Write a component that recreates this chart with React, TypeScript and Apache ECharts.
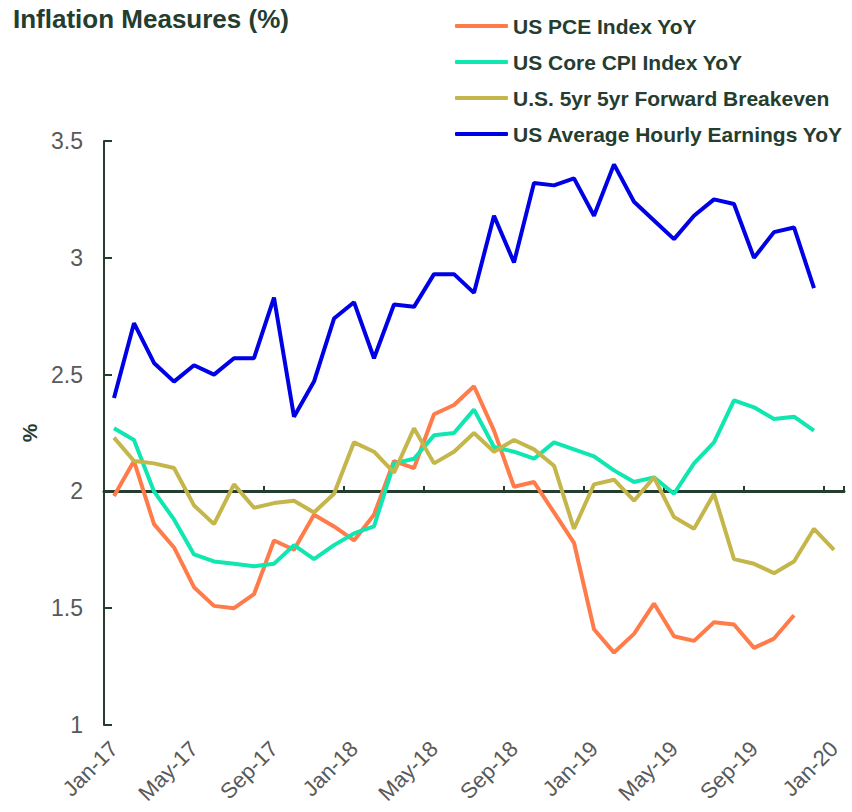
import React, { useEffect, useRef } from "react";
import * as echarts from "echarts";

const months = ["Jan", "Feb", "Mar", "Apr", "May", "Jun", "Jul", "Aug", "Sep", "Oct", "Nov", "Dec"];
const categories: string[] = [];
for (let y = 17; y <= 20; y++) {
  for (let m = 0; m < 12; m++) {
    if (y === 20 && m > 0) break;
    categories.push(`${months[m]}-${y}`);
  }
}

const pceYoY = [
  1.98, 2.13, 1.86, 1.76, 1.59, 1.51, 1.5, 1.56, 1.79, 1.75, 1.9, 1.85,
  1.79, 1.9, 2.13, 2.1, 2.33, 2.37, 2.45, 2.26, 2.02, 2.04, 1.91, 1.78,
  1.41, 1.31, 1.39, 1.52, 1.38, 1.36, 1.44, 1.43, 1.33, 1.37, 1.47, null, null,
];
const coreCpiYoY = [
  2.27, 2.22, 2.0, 1.88, 1.73, 1.7, 1.69, 1.68, 1.69, 1.77, 1.71, 1.77,
  1.82, 1.85, 2.12, 2.14, 2.24, 2.25, 2.35, 2.19, 2.17, 2.14, 2.21, 2.18,
  2.15, 2.09, 2.04, 2.06, 1.99, 2.12, 2.21, 2.39, 2.36, 2.31, 2.32, 2.26, null,
];
const breakeven5y5y = [
  2.23, 2.13, 2.12, 2.1, 1.94, 1.86, 2.03, 1.93, 1.95, 1.96, 1.91, 1.99,
  2.21, 2.17, 2.08, 2.27, 2.12, 2.17, 2.25, 2.17, 2.22, 2.18, 2.11, 1.84,
  2.03, 2.05, 1.96, 2.06, 1.89, 1.84, 1.99, 1.71, 1.69, 1.65, 1.7, 1.84, 1.75,
];
const ahe = [
  2.4, 2.72, 2.55, 2.47, 2.54, 2.5, 2.57, 2.57, 2.83, 2.32, 2.47, 2.74,
  2.81, 2.57, 2.8, 2.79, 2.93, 2.93, 2.85, 3.18, 2.98, 3.32, 3.31, 3.34,
  3.18, 3.4, 3.24, 3.16, 3.08, 3.18, 3.25, 3.23, 3.0, 3.11, 3.13, 2.87, null,
];

const seriesNames = [
  "US PCE Index YoY",
  "US Core CPI Index YoY",
  "U.S. 5yr 5yr Forward Breakeven",
  "US Average Hourly Earnings YoY",
];
const seriesData = [pceYoY, coreCpiYoY, breakeven5y5y, ahe];
const seriesColors = ["#FF7B4A", "#0FE6B0", "#C4B64A", "#0000E6"];

const yTicks = { min: 1, max: 3.5, interval: 0.5 };

const DARK = "#243D2F";
const GREY = "#595959";
const FONT = "Arial, 'Liberation Sans', sans-serif";

export default function App() {
  const ref = useRef<HTMLDivElement>(null);
  useEffect(() => {
    document.body.style.margin = "0";
    if (!ref.current) return;
    const chart = echarts.init(ref.current, null, { renderer: "svg" });
    chart.setOption({
      animation: false,
      backgroundColor: "#ffffff",
      title: {
        text: "Inflation Measures (%)",
        left: 8,
        top: 1,
        textStyle: { fontFamily: FONT, fontSize: 26, fontWeight: "bold", color: DARK },
      },
      legend: {
        orient: "vertical",
        left: 450,
        top: 10,
        itemWidth: 53,
        itemHeight: 4,
        itemGap: 14,
        icon: "roundRect",
        textStyle: { fontFamily: FONT, fontSize: 21, fontWeight: "bold", color: DARK, lineHeight: 22 },
        data: seriesNames,
      },
      grid: { left: 104, width: 740, top: 141, bottom: 87, containLabel: false },
      xAxis: [
        {
          type: "category",
          data: categories,
          boundaryGap: true,
          axisLine: { show: false },
          axisTick: { show: false },
          axisLabel: {
            interval: 3,
            rotate: 45,
            margin: 20,
            fontFamily: FONT,
            fontSize: 22,
            color: GREY,
          },
          splitLine: { show: false },
        },
        {
          type: "category",
          data: categories,
          boundaryGap: true,
          position: "bottom",
          offset: -234,
          axisLine: { show: true, lineStyle: { color: DARK, width: 3 } },
          axisTick: { show: true, inside: true, interval: 3, length: 5, lineStyle: { color: DARK, width: 2 } },
          axisLabel: { show: false },
          splitLine: { show: false },
        },
      ],
      yAxis: {
        type: "value",
        min: yTicks.min,
        max: yTicks.max,
        interval: yTicks.interval,
        name: "%",
        nameLocation: "middle",
        nameRotate: 90,
        nameGap: 62,
        nameTextStyle: { fontFamily: FONT, fontSize: 21, fontWeight: "bold", color: DARK },
        axisLine: { show: true, lineStyle: { color: DARK, width: 2 } },
        axisTick: { show: true, inside: true, length: 8, lineStyle: { color: DARK, width: 2 } },
        axisLabel: { margin: 21, fontFamily: FONT, fontSize: 23, color: GREY },
        splitLine: { show: false },
      },
      series: seriesNames.map((name, i) => ({
        name,
        type: "line",
        xAxisIndex: 0,
        data: seriesData[i],
        symbol: "none",
        showSymbol: false,
        connectNulls: false,
        lineStyle: { width: 4, color: seriesColors[i] },
        itemStyle: { color: seriesColors[i] },
        z: 3,
      })),
    });
    return () => chart.dispose();
  }, []);
  return <div ref={ref} style={{ width: 852, height: 812 }} />;
}
